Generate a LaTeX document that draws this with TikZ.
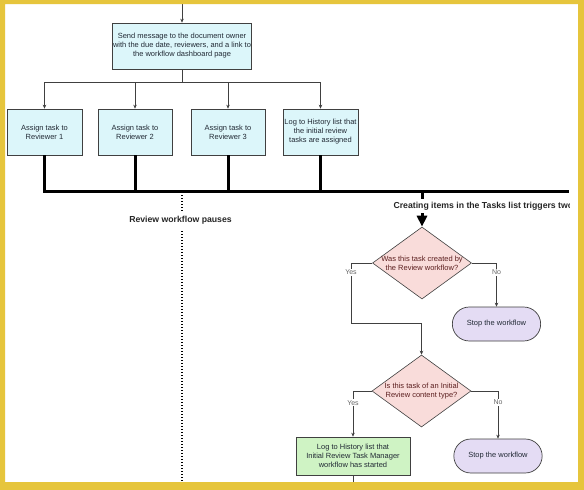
\documentclass[tikz,border=0pt]{standalone}
\usepackage{fontspec}
\setmainfont{Liberation Sans}
\usepackage{tikz}
\usetikzlibrary{arrows.meta, positioning, shapes.geometric, shapes.misc}
\usepackage{xcolor}
\definecolor{FrameGold}{HTML}{E6C53C}
\definecolor{StepCyan}{HTML}{DCF6FA}
\definecolor{AskPink}{HTML}{F9DCDA}
\definecolor{StopLilac}{HTML}{E4DCF4}
\definecolor{LogGreen}{HTML}{CFF3C4}
\definecolor{EdgeGray}{HTML}{404040}
\definecolor{AskText}{HTML}{5C1F1F}
\definecolor{InkText}{HTML}{222A35}

\begin{document}
\begin{tikzpicture}[x=1pt, y=-1pt,
    stepbox/.style={draw=EdgeGray, line width=0.7pt, fill=StepCyan, align=center,
      font=\fontsize{7.5}{9}\selectfont, text=InkText, inner sep=0.5pt, minimum height=46pt},
    decision/.style={diamond, draw=EdgeGray, line width=0.6pt, fill=AskPink,
      inner sep=0pt, minimum width=99pt, minimum height=72pt},
    asktext/.style={align=center, font=\fontsize{7.5}{9}\selectfont, text=AskText, inner sep=0pt},
    stopbox/.style={rounded rectangle, draw=EdgeGray, line width=0.7pt, fill=StopLilac,
      minimum width=95pt, minimum height=34pt, font=\fontsize{7.5}{9}\selectfont, text=InkText},
    wire/.style={EdgeGray, line width=0.6pt},
    flow/.style={wire, -{Stealth[length=4pt, width=3.5pt]}},
    busline/.style={line width=3pt, black},
    pauseline/.style={line width=1.4pt, black, dash pattern=on 1.4pt off 1.6pt},
    notetext/.style={font=\fontsize{8.7}{10}\selectfont\bfseries, text=black!85, fill=white},
    branchlbl/.style={fill=white, inner sep=1pt, font=\fontsize{7}{8}\selectfont, text=black!60}]
  \useasboundingbox (0,0) rectangle (584,490);
  \fill[white] (0,0) rectangle (584,490);

  \begin{scope}
    \clip (5,4) rectangle (569,482);

    % Message step
    \coordinate (entry) at (182,0);
    \node[stepbox, minimum width=138pt] (msg) at (182,46)
      {Send message to the document owner\\with the due date, reviewers, and a link to\\the workflow dashboard page};

    % Task steps
    \node[stepbox, minimum width=75pt] (rev1) at (44.5,132) {Assign task to\\Reviewer 1};
    \node[stepbox, minimum width=74pt] (rev2) at (135,132) {Assign task to\\Reviewer 2};
    \node[stepbox, minimum width=74pt] (rev3) at (228,132) {Assign task to\\Reviewer 3};
    \node[stepbox, minimum width=75pt] (logA) at (320.5,132)
      {Log to History list that\\the initial review\\tasks are assigned};

    \draw[flow] (entry) -- (msg.north);
    \draw[wire] (msg.south) -- ++(0,13) coordinate (split);
    \foreach \b in {rev1,rev2,rev3,logA}
      \draw[flow] (split) -| (\b.north);

    % Heavy bus
    \coordinate (busend) at (569,191);
    \draw[busline] (rev1.south) |- (busend);
    \foreach \b in {rev2,rev3,logA}
      \draw[busline] (\b.south) -- (\b.south |- busend);

    % Pause marker
    \coordinate (pausetop) at (182,195);
    \coordinate (pausebot) at (182,482);
    \draw[pauseline] (pausetop) -- (pausebot);
    \node[notetext, inner ysep=5pt] (pause) at (180.5,220) {Review workflow pauses};

    % First check
    \node[decision] (q1) at (422,263) {};
    \node[asktext] (q1txt) at (q1) {Was this task created by\\the Review workflow?};
    \draw[busline, -{Triangle[length=11pt, width=10pt]}] (q1.north |- busend) -- (q1.north);
    \node[notetext, anchor=west, inner ysep=3pt] (trigger) at (390,206)
      {Creating items in the Tasks list triggers two};
    \node[stopbox] (stop1) at (496.5,324) {Stop the workflow};
    \coordinate (yesbend) at (351,323);

    % Second check
    \node[decision] (q2) at (421.5,391) {};
    \node[asktext] (q2txt) at (q2) {Is this task of an Initial\\Review content type?};
    \node[stopbox] (stop2) at (498,456) {Stop the workflow};
    \node[stepbox, fill=LogGreen, minimum width=114pt, minimum height=38pt] (logB) at (353,456)
      {Log to History list that\\Initial Review Task Manager\\workflow has started};
    \coordinate (exit) at (353,482);

    \draw[flow] (q1.west) -| node[branchlbl, pos=0.58] (yes1) {Yes} (yesbend) -| (q2.north);
    \draw[flow] (q1.east) -| node[branchlbl, pos=0.61] (no1) {No} (stop1.north);
    \draw[flow] (q2.west) -| node[branchlbl, pos=0.63] (yes2) {Yes} (logB.north);
    \draw[flow] (q2.east) -| node[branchlbl, pos=0.62] (no2) {No} (stop2.north);
    \draw[wire] (logB.south) -- (exit);
  \end{scope}

  % Frame
  \fill[FrameGold, even odd rule] (0,0) rectangle (584,490) (5,4) rectangle (578,482);
\end{tikzpicture}
\end{document}
